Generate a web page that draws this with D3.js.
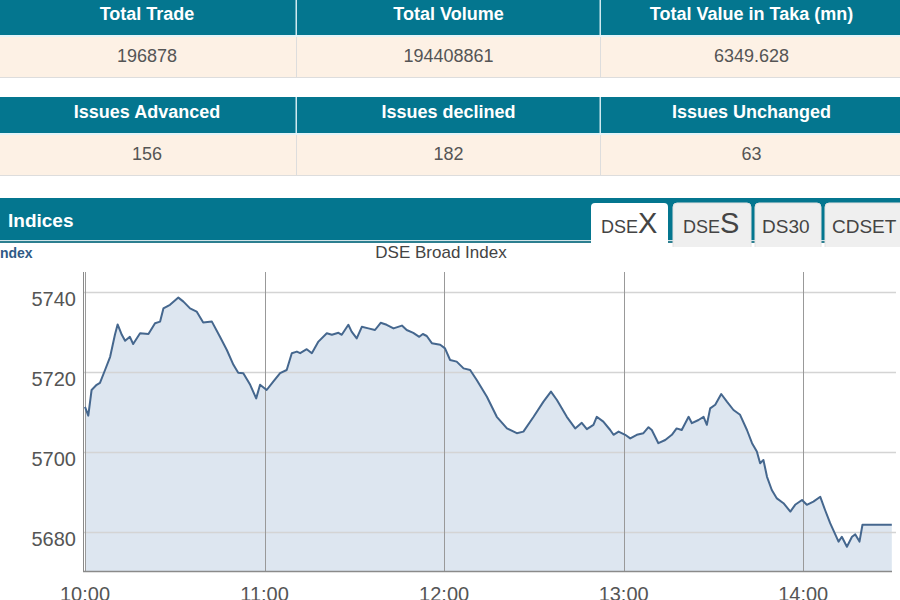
<!DOCTYPE html>
<html>
<head>
<meta charset="utf-8">
<script src="https://cdn.jsdelivr.net/npm/d3@7"></script>
<style>
  body { margin: 0; background: #fff; overflow: hidden; }
  svg { display: block; font-family: "Liberation Sans", Arial, sans-serif; }
</style>
</head>
<body>
<svg id="chart"></svg>
<script>
// market summary tables
let summaryHeads = ["Total Trade", "Total Volume", "Total Value in Taka (mn)"];
let summaryVals = ["196878", "194408861", "6349.628"];
let issueHeads = ["Issues Advanced", "Issues declined", "Issues Unchanged"];
let issueVals = ["156", "182", "63"];

let tabs = [["DSE", "X"], ["DSE", "S"], ["DS30", ""], ["CDSET", ""]];

// DSEX intraday, minutes after 10:00 and index value
let minutes = [0, 1.1, 2.2, 3.9, 5.0, 6.7, 8.4, 10.0, 10.9, 12.3, 13.4, 15.0, 16.1, 18.4, 21.2, 23.4,
    25.1, 26.2, 28.4, 31.2, 32.9, 35.1, 37.3, 39.5, 42.4, 45.1, 47.4, 49.6, 51.2, 52.9, 55.2, 57.2,
    58.5, 60.7, 62.9, 65.2, 67.4, 69.1, 70.8, 71.9, 74.1, 75.8, 78.0, 80.8, 82.5, 84.7, 85.8, 88.0,
    89.1, 90.8, 92.5, 94.7, 96.9, 98.8, 100.8, 103.1, 105.9, 107.5, 109.7, 111.7, 112.9, 114.2,
    115.9, 118.7, 120.3, 122.0, 124.2, 126.5, 128.7, 130.9, 134.3, 137.6, 141.0, 144.3, 146.5,
    149.9, 153.2, 155.7, 157.7, 161.0, 163.8, 166.0, 167.7, 169.9, 171.0, 173.2, 175.5, 176.6,
    178.3, 180.5, 182.2, 184.4, 186.6, 188.3, 189.4, 191.6, 193.9, 196.1, 197.7, 199.4, 201.7,
    202.8, 205.0, 206.7, 207.8, 208.9, 210.6, 212.6, 214.5, 216.7, 218.9, 221.2, 222.9, 224.5,
    225.6, 226.7, 227.9, 229.5, 231.2, 233.4, 235.7, 237.3, 239.6, 241.2, 243.4, 245.7, 247.3,
    249.0, 251.8, 252.9, 254.6, 256.3, 257.4, 258.8, 259.8, 269.6];
let values = [5711.3, 5709.1, 5715.5, 5716.8, 5717.3, 5720.5, 5723.8, 5729.3, 5731.9, 5729.3, 5727.8,
    5728.8, 5727.0, 5729.7, 5729.5, 5732.2, 5732.6, 5735.9, 5736.8, 5738.6, 5737.6, 5735.9, 5735.1,
    5732.4, 5732.6, 5728.8, 5725.5, 5721.8, 5719.8, 5719.7, 5716.8, 5713.4, 5716.8, 5715.5, 5717.6,
    5719.7, 5720.5, 5724.7, 5725.1, 5724.7, 5725.7, 5724.7, 5727.6, 5729.7, 5729.3, 5729.8, 5729.3,
    5731.8, 5730.1, 5728.4, 5731.3, 5730.9, 5730.5, 5732.3, 5731.8, 5730.9, 5731.6, 5730.5, 5729.8,
    5728.8, 5729.5, 5729.0, 5727.2, 5726.8, 5725.9, 5723.0, 5722.6, 5720.9, 5720.5, 5718.0, 5713.8,
    5708.8, 5705.9, 5704.7, 5705.1, 5708.8, 5712.6, 5715.1, 5713.0, 5708.8, 5705.9, 5707.3, 5705.7,
    5706.8, 5708.8, 5707.6, 5705.5, 5704.3, 5705.1, 5704.3, 5703.4, 5704.3, 5704.7, 5706.2, 5705.5,
    5702.2, 5703.0, 5704.3, 5705.9, 5705.5, 5708.8, 5707.2, 5708.0, 5708.8, 5706.8, 5710.9, 5711.8,
    5714.5, 5712.6, 5710.5, 5709.3, 5705.5, 5702.2, 5700.1, 5697.2, 5698.0, 5693.8, 5690.5, 5688.4,
    5687.2, 5685.1, 5686.8, 5688.0, 5686.8, 5687.6, 5688.8, 5685.5, 5682.2, 5677.6, 5678.8, 5676.3,
    5678.8, 5679.4, 5677.6, 5681.8, 5681.8];
let yTicks = [5680, 5700, 5720, 5740];

let width = 900, height = 600;
let teal = "#04768f", cream = "#fdf1e5";

let svg = d3.select("#chart")
    .attr("width", width)
    .attr("height", height);

// column edges of the tables
let cols = [[-2, 296], [297, 600], [601, 902]];

function table(top, heads, vals) {
    let g = svg.append("g");
    g.append("rect").attr("x", 0).attr("y", top).attr("width", width).attr("height", 36).style("fill", teal);
    g.append("rect").attr("x", 0).attr("y", top + 36).attr("width", width).attr("height", 2).style("fill", "#e4f4f8");
    g.append("rect").attr("x", 0).attr("y", top + 38).attr("width", width).attr("height", 41).style("fill", cream);
    g.append("rect").attr("x", 0).attr("y", top + 78).attr("width", width).attr("height", 1).style("fill", "#ddd");

    cols.forEach(function(c, i) {
        let cx = (c[0] + c[1]) / 2;
        if (i > 0) {
            g.append("rect").attr("x", c[0] - 1.5).attr("y", top).attr("width", 1.5).attr("height", 36).style("fill", "#cfe9f0");
            g.append("rect").attr("x", c[0] - 1).attr("y", top + 38).attr("width", 1).attr("height", 40).style("fill", "#ddd");
        }
        g.append("text")
            .attr("x", cx).attr("y", top + 20.5)
            .attr("text-anchor", "middle")
            .style("font-size", "18px").style("font-weight", "bold").style("fill", "#fff")
            .text(heads[i]);
        g.append("text")
            .attr("x", cx).attr("y", top + 63)
            .attr("text-anchor", "middle")
            .style("font-size", "18px").style("fill", "#555")
            .text(vals[i]);
    });
}

table(-1, summaryHeads, summaryVals);
table(97, issueHeads, issueVals);

// Indices bar
svg.append("rect").attr("x", 0).attr("y", 198).attr("width", width).attr("height", 42).style("fill", teal);
svg.append("rect").attr("x", 0).attr("y", 240).attr("width", width).attr("height", 1).style("fill", "#cfe3e8");
svg.append("rect").attr("x", 0).attr("y", 241).attr("width", width).attr("height", 2).style("fill", "#2d7f90");
svg.append("text")
    .attr("x", 8).attr("y", 227)
    .style("font-size", "19px").style("font-weight", "bold").style("fill", "#fff")
    .text("Indices");

// tabs
let tabX = [591, 673, 755, 825], tabW = [77, 78, 66, 80];
tabs.forEach(function(t, i) {
    let active = i == 0;
    svg.append("path")
        .attr("d", "M" + tabX[i] + ",250 V207 q0,-4 4,-4 H" + (tabX[i] + tabW[i] - 4) + " q4,0 4,4 V250 Z")
        .style("fill", active ? "#fff" : "#efefef")
        .style("stroke", active ? "none" : "#e2e2e2");
    let txt = svg.append("text")
        .attr("x", tabX[i] + (i < 2 ? 10 : 7)).attr("y", 233)
        .style("fill", "#444");
    txt.append("tspan").style("font-size", i < 2 ? "18px" : "19px").text(t[0]);
    if (t[1]) txt.append("tspan").style("font-size", "29px").text(t[1]);
});
svg.append("rect").attr("x", 0).attr("y", 247).attr("width", width).attr("height", 25).style("fill", "#fff");

svg.append("text")
    .attr("x", -4).attr("y", 258)
    .style("font-size", "14px").style("font-weight", "bold").style("fill", "#2f5a86")
    .text("Index");
svg.append("text")
    .attr("x", 441).attr("y", 258)
    .attr("text-anchor", "middle")
    .style("font-size", "17px").style("fill", "#444")
    .text("DSE Broad Index");

// chart
let plotL = 84, plotR = 892, plotT = 272, plotB = 571.5;
let t0 = new Date(2024, 0, 1, 10, 0), t1 = new Date(2024, 0, 1, 14, 30);
let data = minutes.map(function(m, i) {
    return { t: new Date(t0.getTime() + m * 60000), v: values[i] };
});

let x = d3.scaleTime().domain([t0, t1]).range([85, 893]);
let y = d3.scaleLinear().domain([5670, 5745]).range([572, 272]);

let area = d3.area()
    .x(function(d) { return x(d.t); })
    .y0(plotB)
    .y1(function(d) { return y(d.v); });
let line = d3.line()
    .x(function(d) { return x(d.t); })
    .y(function(d) { return y(d.v); });

svg.append("path").datum(data).attr("d", area).style("fill", "#dde6f0");

// gridlines
svg.append("g").selectAll("line")
    .data(yTicks).enter().append("line")
    .attr("x1", plotL).attr("x2", 896)
    .attr("y1", function(d) { return Math.round(y(d)) + 0.5; })
    .attr("y2", function(d) { return Math.round(y(d)) + 0.5; })
    .style("stroke", "#d4d4d4").style("stroke-width", 1.5);

svg.append("g").selectAll("line")
    .data(x.ticks(d3.timeHour.every(1))).enter().append("line")
    .attr("x1", function(d) { return Math.round(x(d)) + 0.5; })
    .attr("x2", function(d) { return Math.round(x(d)) + 0.5; })
    .attr("y1", plotT).attr("y2", plotB)
    .style("stroke", "#999").style("stroke-width", 1);

svg.append("path").datum(data).attr("d", line)
    .style("fill", "none").style("stroke", "#45678e").style("stroke-width", 2).style("stroke-linejoin", "round");

// axis lines
svg.append("line").attr("x1", plotL - 0.5).attr("x2", plotL - 0.5).attr("y1", plotT).attr("y2", plotB)
    .style("stroke", "#8a8a8a");
svg.append("line").attr("x1", plotL - 1).attr("x2", plotR).attr("y1", plotB).attr("y2", plotB)
    .style("stroke", "#8a8a8a").style("stroke-width", 1.5);

// tick labels
svg.append("g").selectAll("text")
    .data(yTicks).enter().append("text")
    .attr("x", 76).attr("y", function(d) { return y(d) + 14; })
    .attr("text-anchor", "end")
    .style("font-size", "20px").style("fill", "#555")
    .text(function(d) { return d; });

let fmt = d3.timeFormat("%H:%M");
svg.append("g").selectAll("text")
    .data(x.ticks(d3.timeHour.every(1))).enter().append("text")
    .attr("x", function(d) { return x(d); }).attr("y", 601)
    .attr("text-anchor", "middle")
    .style("font-size", "20px").style("fill", "#555")
    .text(function(d) { return fmt(d); });
</script>
</body>
</html>
